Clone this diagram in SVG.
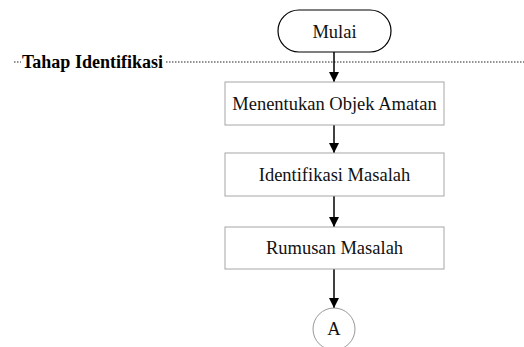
<svg xmlns="http://www.w3.org/2000/svg" width="524" height="347" viewBox="0 0 524 347">
<style>
.box{fill:#fff;stroke:#a6a6a6;stroke-width:1}
.t{fill:#111;text-anchor:middle}
.c{stroke:#000;stroke-width:1.5;fill:none}
.dash{stroke:#222;stroke-width:1.2;stroke-dasharray:1.5,1.5}
</style>
<defs>
<marker id="ah" markerWidth="10" markerHeight="10" refX="10" refY="5" orient="auto" markerUnits="userSpaceOnUse">
<path d="M0,0 L10,5 L0,10 Z" fill="#000"/>
</marker>
</defs>
<rect width="524" height="347" fill="#fff"/>
<g id="lane">
<line class="dash" x1="14" y1="62" x2="21" y2="62"/>
<line class="dash" x1="166" y1="62" x2="524" y2="62"/>
<text x="22" y="68" font-family="Liberation Serif" font-size="18" font-weight="bold" fill="#000">Tahap Identifikasi</text>
</g>
<g id="connectors">
<line class="c" x1="334" y1="52" x2="334" y2="82" marker-end="url(#ah)"/>
<line class="c" x1="334" y1="125" x2="334" y2="153" marker-end="url(#ah)"/>
<line class="c" x1="334" y1="196" x2="334" y2="227" marker-end="url(#ah)"/>
<line class="c" x1="334" y1="269" x2="334" y2="308" marker-end="url(#ah)"/>
</g>
<g id="mulai">
<rect x="278" y="10" width="113" height="42" rx="21" fill="#fff" stroke="#000" stroke-width="1.2"/>
<text class="t" x="334.5" y="38" font-family="Liberation Serif" font-size="18.5">Mulai</text>
</g>
<g id="objek">
<rect class="box" x="225" y="82" width="219" height="43"/>
<text class="t" x="334.5" y="110" font-family="Liberation Serif" font-size="18.5">Menentukan Objek Amatan</text>
</g>
<g id="identifikasi">
<rect class="box" x="225" y="153" width="219" height="43"/>
<text class="t" x="334.5" y="181" font-family="Liberation Serif" font-size="18.5">Identifikasi Masalah</text>
</g>
<g id="rumusan">
<rect class="box" x="225" y="227" width="219" height="42"/>
<text class="t" x="334.5" y="254" font-family="Liberation Serif" font-size="18.5">Rumusan Masalah</text>
</g>
<g id="a">
<circle cx="334" cy="329" r="21" fill="#fff" stroke="#999" stroke-width="1"/>
<text class="t" x="334" y="335" font-family="Liberation Serif" font-size="18.5">A</text>
</g>
</svg>
